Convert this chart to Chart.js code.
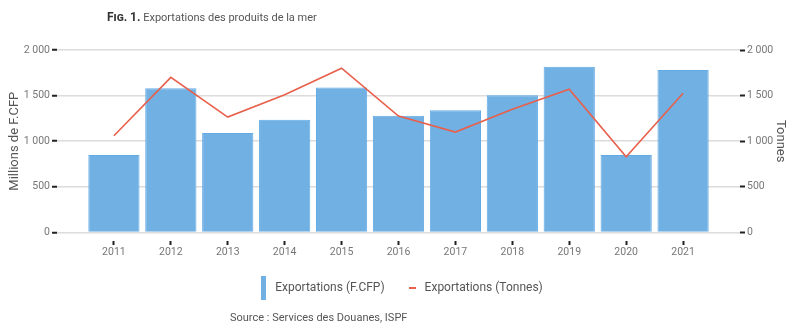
<!DOCTYPE html>
<html>
	<head>
		<meta charset="utf-8">
		<title>Exportations des produits de la mer</title>
		<script src="https://cdn.jsdelivr.net/npm/chart.js@4/dist/chart.umd.min.js"></script>
		<style>
			body { margin: 0; background: #fff; font-family: Roboto, sans-serif; }
			#wrap { position: relative; width: 800px; height: 330px; }
			#title { position: absolute; left: 107px; top: 10px; font-size: 11px; color: #555; white-space: nowrap; }
			#title b { font-variant: small-caps; color: #333; font-size: 12px; }
			#source { position: absolute; left: 230px; top: 311px; font-size: 11px; color: #555; white-space: nowrap; }
			#box { position: absolute; left: 0; top: 0; width: 800px; height: 330px; }
		</style>
	</head>
	<body>
		<div id="wrap">
			<div id="box"><canvas id="chart"></canvas></div>
			<div id="title"><b>Fig. 1.</b> Exportations des produits de la mer</div>
			<div id="source">Source : Services des Douanes, ISPF</div>
		</div>
	</body>
<script>
	var years = [2011, 2012, 2013, 2014, 2015, 2016, 2017, 2018, 2019, 2020, 2021];
	var valeurs = [850, 1580, 1090, 1235, 1590, 1280, 1340, 1505, 1815, 850, 1780];   // millions F.CFP
	var tonnes = [1060, 1700, 1265, 1510, 1800, 1275, 1100, 1350, 1570, 830, 1525];
	var yTicks = [0, 500, 1000, 1500, 2000];

	var blue = '#70b0e2';
	var red = '#e8604c';

	function fmt(v) {
		return String(v).replace(/\B(?=(\d{3})+(?!\d))/g, ' ');
	}

	// small legend icons
	function icon(w, h, color) {
		var c = document.createElement('canvas');
		c.width = w; c.height = h;
		var g = c.getContext('2d');
		g.fillStyle = color;
		g.fillRect(0, 0, w, h);
		return c;
	}
	var barIcon = icon(5, 24, blue);
	var lineIcon = icon(7, 2, red);

	var tickFont = { family: 'Roboto', size: 10.5 };
	var isEdge = function(v) { return v < years[0] || v > years[years.length - 1]; };

	new Chart(document.getElementById('chart'), {
		type: 'bar',
		data: {
			datasets: [
				{
					type: 'line',
					label: 'Exportations (Tonnes)',
					data: years.map(function(y, i) { return { x: y, y: tonnes[i] }; }),
					borderColor: red,
					borderWidth: 1.6,
					pointRadius: 0,
					tension: 0,
					yAxisID: 'y1',
					order: 0,
					pointStyle: lineIcon
				},
				{
					label: 'Exportations (F.CFP)',
					data: years.map(function(y, i) { return { x: y, y: valeurs[i] }; }),
					backgroundColor: blue,
					borderColor: '#62aae6',
					borderWidth: 1,
					categoryPercentage: 1,
					barPercentage: 0.9,
					yAxisID: 'y',
					order: 1,
					pointStyle: barIcon
				}
			]
		},
		options: {
			responsive: true,
			maintainAspectRatio: false,
			animation: false,
			layout: { padding: { top: 50, bottom: 26, left: 0, right: 0 } },
			plugins: {
				title: { display: false },
				tooltip: { enabled: false },
				legend: {
					position: 'bottom',
					reverse: true,
					labels: {
						usePointStyle: true,
						boxWidth: 12,
						padding: 22,
						color: '#555',
						font: { family: 'Roboto', size: 12 }
					}
				}
			},
			scales: {
				x: {
					type: 'linear',
					offset: false,
					min: years[0] - 1,
					max: years[years.length - 1] + 1,
					border: { display: false },
					grid: {
						offset: false,
						drawOnChartArea: false,
						drawTicks: true,
						tickLength: 13,
						tickWidth: 2,
						tickBorderDash: [0, 9, 4, 60],
						tickColor: function(ctx) { return ctx.tick && isEdge(ctx.tick.value) ? 'rgba(0,0,0,0)' : '#222'; }
					},
					ticks: {
						stepSize: 1,
						padding: 1,
						maxRotation: 0,
						autoSkip: false,
						color: '#777',
						font: tickFont,
						callback: function(v) { return isEdge(v) ? '' : String(v); }
					}
				},
				y: {
					position: 'left',
					min: 0,
					max: 2000,
					afterBuildTicks: function(s) { s.ticks = yTicks.map(function(v) { return { value: v }; }); },
					afterFit: function(s) { s.width = 57; },
					border: { display: false },
					grid: {
						color: '#dcdcdc',
						lineWidth: 1.5,
						tickLength: 5,
						tickWidth: 2,
						tickColor: '#222'
					},
					ticks: {
						padding: 2,
						color: '#777',
						font: tickFont,
						callback: function(v) { return fmt(v); }
					},
					title: {
						display: true,
						text: 'Millions de F.CFP',
						color: '#555',
						font: { family: 'Roboto', size: 13 },
						padding: { top: 7, bottom: 0 }
					}
				},
				y1: {
					position: 'right',
					min: 0,
					max: 2000,
					afterBuildTicks: function(s) { s.ticks = yTicks.map(function(v) { return { value: v }; }); },
					afterFit: function(s) { s.width = 60; },
					border: { display: false },
					grid: {
						drawOnChartArea: false,
						tickLength: 5,
						tickWidth: 2,
						tickColor: '#222'
					},
					ticks: {
						padding: 2,
						color: '#777',
						font: tickFont,
						callback: function(v) { return fmt(v); }
					},
					title: {
						display: true,
						text: 'Tonnes',
						color: '#555',
						font: { family: 'Roboto', size: 13 },
						padding: { top: 12, bottom: 0 }
					}
				}
			}
		}
	});
</script>
</html>
